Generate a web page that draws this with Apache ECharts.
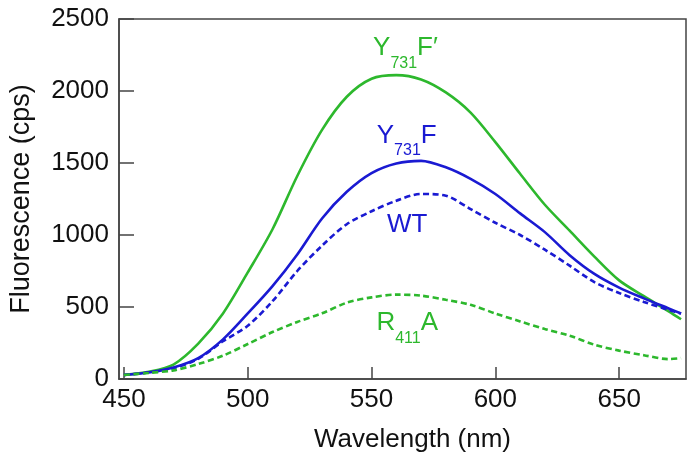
<!DOCTYPE html>
<html>
<head>
<meta charset="utf-8">
<script src="https://cdn.jsdelivr.net/npm/echarts@6/dist/echarts.min.js"></script>
<style>
  html, body { margin: 0; padding: 0; background: #fff; }
  #chart { width: 695px; height: 461px; }
</style>
</head>
<body>
<div id="chart"></div>
<script>
  // wavelength (nm)
  var wavelength = [450, 460, 470, 480, 490, 500, 510, 520, 530, 540, 550, 560,
                    570, 580, 590, 600, 610, 620, 630, 640, 650, 660, 670, 675];
  // fluorescence (cps)
  var y731fPrime = [28, 50, 100, 245, 455, 740, 1040, 1410, 1730, 1960, 2085, 2110,
                    2080, 1990, 1850, 1645, 1425, 1210, 1030, 850, 685, 575, 470, 415];
  var y731f = [28, 45, 80, 145, 275, 455, 645, 865, 1115, 1300, 1430, 1497,
               1515, 1470, 1390, 1285, 1150, 1020, 860, 730, 635, 560, 490, 455];
  var wt = [28, 45, 75, 140, 262, 370, 540, 750, 926, 1075, 1165, 1238,
            1285, 1273, 1180, 1085, 1000, 898, 787, 673, 597, 535, 480, 455];
  var r411a = [28, 42, 60, 104, 162, 243, 326, 396, 456, 530, 567, 586,
               579, 550, 515, 455, 400, 347, 301, 238, 197, 165, 138, 145];

  var xTicks = [450, 500, 550, 600, 650];
  // label anchors [wavelength, cps]
  var labelPos = {
    y731fPrime: [563.7, 2283],
    y731f: [564.2, 1678],
    wt: [564.4, 1059],
    r411a: [564.4, 373]
  };

  var green = '#2db82d';
  var blue = '#1a1ad2';
  var font = 'Liberation Sans, Arial, sans-serif';

  function pairs(ys) {
    return wavelength.map(function (w, i) { return [w, ys[i]]; });
  }

  function tag(pos, text, color) {
    var rich = {
      a: { fontSize: 26, lineHeight: 30, verticalAlign: 'top', align: 'left',
           color: color, fontFamily: font },
      s: { fontSize: 16, lineHeight: 16, verticalAlign: 'top', align: 'left',
           padding: [20, 0, 0, 0], color: color, fontFamily: font }
    };
    return {
      symbol: 'circle',
      symbolSize: 0,
      silent: true,
      label: { show: true, position: 'inside', align: 'center', verticalAlign: 'middle',
               formatter: text, rich: rich },
      data: [{ coord: pos }]
    };
  }

  function line(name, ys, color, dashed, mark) {
    return {
      name: name,
      type: 'line',
      data: pairs(ys),
      showSymbol: false,
      smooth: 0.3,
      lineStyle: { color: color, width: 2.6, type: dashed ? [6, 3.5] : 'solid' },
      markPoint: mark,
      z: 3
    };
  }

  var chart = echarts.init(document.getElementById('chart'), null, { renderer: 'canvas' });

  chart.setOption({
    animation: false,
    backgroundColor: '#fff',
    grid: {
      left: 117, right: 9, top: 19, bottom: 82,
      show: true, borderColor: '#444', borderWidth: 1.5
    },
    xAxis: {
      type: 'value',
      min: 448,
      max: 677,
      name: 'Wavelength (nm)',
      nameLocation: 'middle',
      nameGap: 48,
      nameTextStyle: { fontSize: 26, color: '#111', fontFamily: font, padding: [0, 0, 0, 20] },
      axisLine: { lineStyle: { color: '#444', width: 1.5 } },
      axisTick: { inside: true, length: 12, customValues: xTicks,
                  lineStyle: { color: '#444', width: 1.5 } },
      axisLabel: { customValues: xTicks, fontSize: 26, color: '#111', fontFamily: font, margin: 8 },
      splitLine: { show: false }
    },
    yAxis: {
      type: 'value',
      min: 0,
      max: 2500,
      interval: 500,
      name: 'Fluorescence (cps)',
      nameLocation: 'middle',
      nameGap: 84,
      nameTextStyle: { fontSize: 27, color: '#111', fontFamily: font },
      axisLine: { show: true, lineStyle: { color: '#444', width: 1.5 } },
      axisTick: { show: true, inside: true, length: 15, lineStyle: { color: '#444', width: 1.5 } },
      axisLabel: { fontSize: 26, color: '#111', fontFamily: font, margin: 10,
                   formatter: function (v) { return String(v); } },
      splitLine: { show: false }
    },
    series: [
      line('Y731F′', y731fPrime, green, false, tag(labelPos.y731fPrime, '{a|Y}{s|731}{a|F′}', green)),
      line('Y731F', y731f, blue, false, tag(labelPos.y731f, '{a|Y}{s|731}{a|F}', blue)),
      line('WT', wt, blue, true, tag(labelPos.wt, '{a|WT}', blue)),
      line('R411A', r411a, green, true, tag(labelPos.r411a, '{a|R}{s|411}{a|A}', green))
    ]
  });

  window.addEventListener('resize', chart.resize);
</script>
</body>
</html>
